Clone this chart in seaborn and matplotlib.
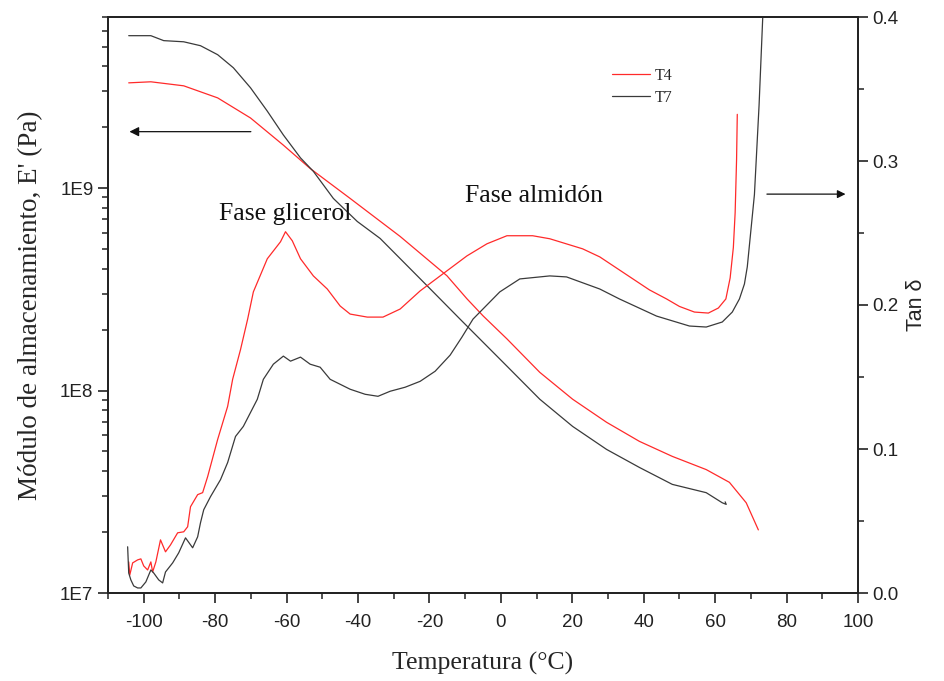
import numpy as np
import pandas as pd
import matplotlib
matplotlib.use("Agg")
import matplotlib.pyplot as plt
from matplotlib.ticker import LogLocator, NullFormatter, MultipleLocator, FuncFormatter
import seaborn as sns

# Storage modulus E' (Pa) versus temperature (°C)
t4_mod_temp = [-104.2, -98.0, -88.8, -79.3, -70.1, -60.9, -53.4, -42.2, -28.2, -15.1,
               -9.5, -5.0, 1.7, 10.9, 20.1, 29.6, 38.8, 48.0, 57.5, 64.0, 68.7, 72.1]
t4_mod = [3.31e9, 3.35e9, 3.20e9, 2.79e9, 2.22e9, 1.63e9, 1.25e9, 8.89e8, 5.77e8, 3.69e8,
          2.84e8, 2.34e8, 1.80e8, 1.23e8, 9.06e7, 6.97e7, 5.61e7, 4.73e7, 4.07e7, 3.52e7,
          2.79e7, 2.05e7]

t7_mod_temp = [-104.2, -98.0, -94.4, -88.8, -84.1, -79.3, -74.9, -70.1, -65.4, -60.9,
               -56.1, -52.5, -46.9, -40.2, -33.8, -20.7, -11.5, 1.7, 10.9, 20.1,
               29.6, 38.8, 48.0, 57.5, 62.0, 63.1, 62.8]
t7_mod = [5.66e9, 5.66e9, 5.35e9, 5.28e9, 5.05e9, 4.56e9, 3.93e9, 3.13e9, 2.40e9, 1.83e9,
          1.41e9, 1.21e9, 8.89e8, 6.84e8, 5.64e8, 3.30e8, 2.26e8, 1.32e8, 9.06e7, 6.65e7,
          5.12e7, 4.17e7, 3.44e7, 3.13e7, 2.79e7, 2.74e7, 2.82e7]

# Loss tangent (tan delta) versus temperature (°C)
t4_tan_temp = [-104.2, -103.9, -103.1, -101.7, -100.8, -100.0, -98.9, -98.0, -97.5, -96.6,
               -95.3, -93.9, -92.5, -90.5, -88.8, -87.7, -86.9, -84.9, -83.5, -82.1,
               -79.3, -76.5, -75.1, -72.9, -70.9, -69.3, -65.4, -61.7, -60.3, -58.4,
               -56.1, -52.5, -48.6, -45.0, -42.2, -37.4, -33.0, -28.2, -22.6, -17.0,
               -9.5, -3.9, 1.7, 8.9, 13.7, 22.9, 27.7, 41.6, 46.4, 50.0,
               54.2, 58.1, 60.9, 63.0, 64.2, 65.1, 65.6, 66.0, 66.2]
t4_tan = [0.0216, 0.0125, 0.0209, 0.0230, 0.0237, 0.0188, 0.0160, 0.0216, 0.0146, 0.0216,
          0.0369, 0.0286, 0.0334, 0.0418, 0.0425, 0.0460, 0.0599, 0.0683, 0.0697, 0.0808,
          0.1066, 0.1296, 0.1484, 0.1690, 0.1902, 0.2091, 0.2321, 0.2439, 0.2509, 0.2446,
          0.2321, 0.2202, 0.2111, 0.1993, 0.1937, 0.1916, 0.1916, 0.1972, 0.2098, 0.2202,
          0.2341, 0.2425, 0.2481, 0.2481, 0.2460, 0.2390, 0.2334, 0.2105, 0.2042, 0.1990,
          0.1951, 0.1944, 0.1979, 0.2042, 0.2188, 0.2400, 0.2641, 0.3010, 0.3324]

t7_tan_temp = [-104.5, -104.2, -103.6, -102.8, -101.7, -100.8, -99.4, -98.0, -97.2, -95.8,
               -94.7, -93.9, -91.9, -90.2, -88.3, -86.3, -84.9, -84.1, -83.2, -81.3,
               -78.5, -76.5, -74.3, -72.1, -68.2, -66.5, -63.7, -60.9, -58.9, -56.1,
               -53.4, -50.6, -47.8, -42.2, -38.0, -34.4, -31.0, -26.8, -22.6, -18.4,
               -14.2, -10.9, -7.8, -0.3, 5.3, 13.7, 18.4, 27.7, 33.2, 43.6,
               52.8, 57.5, 62.0, 64.8, 66.8, 68.2, 69.0, 71.0, 72.3, 73.5]
t7_tan = [0.0321, 0.0139, 0.0091, 0.0049, 0.0035, 0.0035, 0.0077, 0.0160, 0.0139, 0.0091,
          0.0070, 0.0146, 0.0209, 0.0279, 0.0383, 0.0314, 0.0390, 0.0488, 0.0578, 0.0669,
          0.0787, 0.0906, 0.1087, 0.1157, 0.1345, 0.1484, 0.1589, 0.1645, 0.1610, 0.1638,
          0.1589, 0.1568, 0.1484, 0.1415, 0.1380, 0.1366, 0.1401, 0.1429, 0.1470, 0.1540,
          0.1652, 0.1777, 0.1902, 0.2091, 0.2181, 0.2202, 0.2195, 0.2111, 0.2042, 0.1923,
          0.1854, 0.1847, 0.1882, 0.1951, 0.2042, 0.2146, 0.2265, 0.2767, 0.3387, 0.4100]

series_labels = ["T4", "T7"]
series_colors = ["#ff2a2a", "#3a3a3a"]

sns.set_theme(style="ticks")
plt.rcParams.update({
    "font.family": ["Liberation Sans", "DejaVu Sans"],
    "axes.unicode_minus": False,
    "axes.linewidth": 1.3,
    "xtick.major.width": 1.2, "ytick.major.width": 1.2,
    "xtick.minor.width": 1.1, "ytick.minor.width": 1.1,
    "xtick.major.size": 7, "ytick.major.size": 7,
    "xtick.minor.size": 4, "ytick.minor.size": 4,
    "xtick.color": "#222222", "ytick.color": "#222222",
    "axes.edgecolor": "#222222",
})
serif = ["Liberation Serif", "DejaVu Serif"]

fig = plt.figure(figsize=(9.45, 6.81), dpi=100)
ax = fig.add_axes([108 / 945, 1 - 593 / 681, 750 / 945, 576 / 681])
ax2 = ax.twinx()

mod_df = pd.concat([
    pd.DataFrame({"temp": t4_mod_temp, "E": t4_mod, "muestra": "T4"}),
    pd.DataFrame({"temp": t7_mod_temp, "E": t7_mod, "muestra": "T7"}),
])
tan_df = pd.concat([
    pd.DataFrame({"temp": t4_tan_temp, "tan": t4_tan, "muestra": "T4"}),
    pd.DataFrame({"temp": t7_tan_temp, "tan": t7_tan, "muestra": "T7"}),
])

for lab, col in zip(series_labels, series_colors):
    d = mod_df[mod_df["muestra"] == lab]
    sns.lineplot(data=d, x="temp", y="E", ax=ax, color=col, lw=0.9,
                 sort=False, estimator=None, legend=False)
    d = tan_df[tan_df["muestra"] == lab]
    sns.lineplot(data=d, x="temp", y="tan", ax=ax2, color=col, lw=0.9,
                 sort=False, estimator=None, label=lab)

# left axis: storage modulus, log scale
ax.set_yscale("log")
ax.set_ylim(1e7, 7e9)
ax.yaxis.set_major_locator(LogLocator(base=10, numticks=10))
ax.yaxis.set_minor_locator(LogLocator(base=10, subs=np.arange(2, 10), numticks=20))
ax.yaxis.set_major_formatter(FuncFormatter(lambda v, p: f"1E{int(round(np.log10(v)))}"))
ax.yaxis.set_minor_formatter(NullFormatter())

ax.set_xlim(-110, 100)
ax.xaxis.set_major_locator(MultipleLocator(20))
ax.xaxis.set_minor_locator(MultipleLocator(10))
ax.tick_params(axis="both", which="both", direction="out", labelsize=13.5, top=False)
ax.tick_params(axis="x", pad=8)

# right axis: tan delta
ax2.set_ylim(0.0, 0.4)
ax2.yaxis.set_major_locator(MultipleLocator(0.1))
ax2.yaxis.set_minor_locator(MultipleLocator(0.05))
ax2.yaxis.set_major_formatter(FuncFormatter(lambda v, p: f"{v:.1f}"))
ax2.tick_params(axis="y", which="both", direction="out", labelsize=13.5)

for a in (ax, ax2):
    for s in a.spines.values():
        s.set_visible(True)
        s.set_linewidth(1.3)

ax.set_xlabel("Temperatura (°C)", fontsize=18.5, family=serif, labelpad=15)
ax.set_ylabel("Módulo de almacenamiento, E' (Pa)", fontsize=19.5, family=serif, labelpad=12)
ax2.set_ylabel("Tan δ", fontsize=15.5, labelpad=5)

# phase annotations
ax2.text(-60.3, 0.263, "Fase glicerol", fontsize=18.5, family=serif,
         ha="center", va="center", color="#111111")
ax2.text(9.2, 0.276, "Fase almidón", fontsize=18.5, family=serif,
         ha="center", va="center", color="#111111")

# arrows pointing to each axis
ax.annotate("", xy=(-104.0, 1.9e9), xytext=(-70.0, 1.9e9),
            arrowprops=dict(arrowstyle="-|>", color="#111111", lw=0.9,
                            mutation_scale=14, shrinkA=0, shrinkB=0))
ax2.annotate("", xy=(96.5, 0.277), xytext=(74.5, 0.277),
             arrowprops=dict(arrowstyle="-|>", color="#111111", lw=0.9,
                             mutation_scale=12, shrinkA=0, shrinkB=0))

leg = ax2.legend(loc="upper left", bbox_to_anchor=(612 / 945, 1 - 68 / 681),
                 bbox_transform=fig.transFigure, frameon=False,
                 prop={"family": serif, "size": 11.5},
                 handlelength=2.4, handletextpad=0.3, labelspacing=0.35,
                 borderpad=0.0, borderaxespad=0.0)
for line in leg.get_lines():
    line.set_linewidth(0.9)

fig.savefig("out.png", dpi=100)
